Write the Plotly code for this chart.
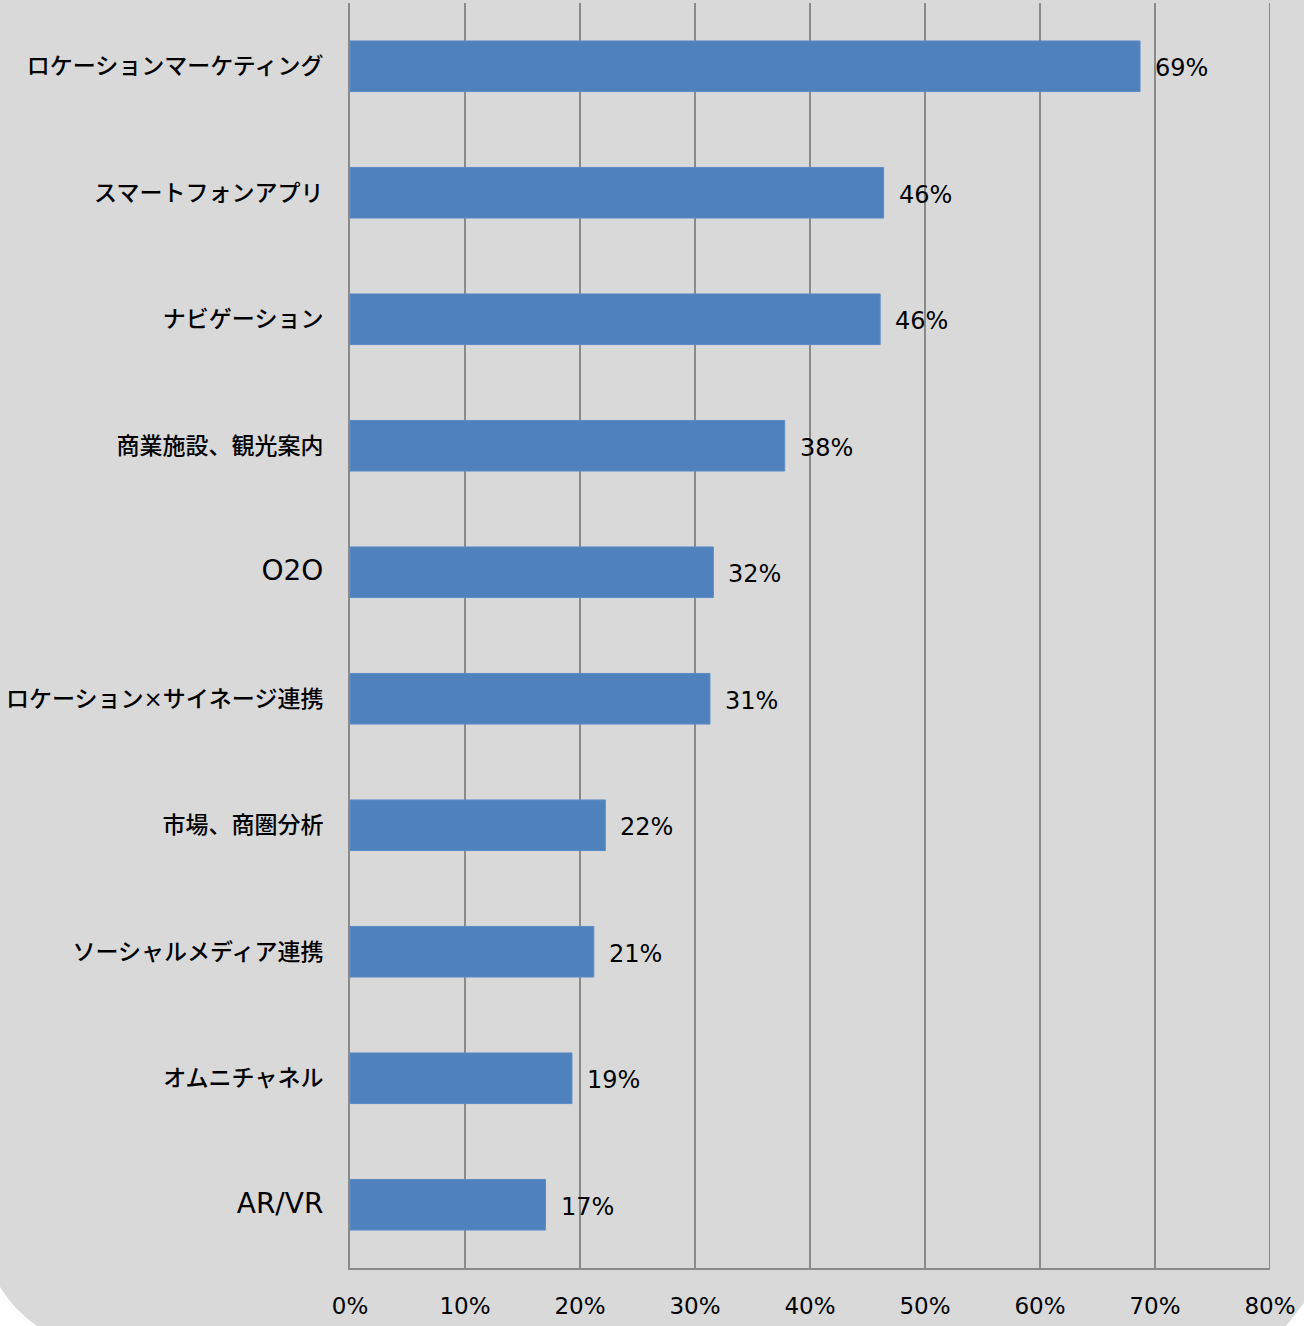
import plotly.graph_objects as go

categories = ["ロケーションマーケティング", "スマートフォンアプリ", "ナビゲーション", "商業施設、観光案内",
              "O2O", "ロケーション×サイネージ連携", "市場、商圏分析", "ソーシャルメディア連携",
              "オムニチャネル", "AR/VR"]
values = [68.7, 46.4, 46.1, 37.8, 31.6, 31.3, 22.2, 21.2, 19.3, 17.0]
labels = ["69%", "46%", "46%", "38%", "32%", "31%", "22%", "21%", "19%", "17%"]
tick_vals = [0, 10, 20, 30, 40, 50, 60, 70, 80]
tick_text = ["0%", "10%", "20%", "30%", "40%", "50%", "60%", "70%", "80%"]

W, H = 1304, 1326
L, R, T, B = 350, 34, 3, 58
pw, ph = W - L - R, H - T - B

def px(x):
    return (x - L) / pw

def py(y):
    return (H - B - y) / ph

font_family = "DejaVu Sans, Noto Sans CJK JP, sans-serif"

# Latin-only category labels are shown larger (as in the reference font)
y_ticktext = [f"<span style='font-size:28px'>{c}</span>" if c.isascii() else c for c in categories]

fig = go.Figure(go.Bar(
    x=values, y=categories, orientation="h",
    marker=dict(color="#4f81bd", line=dict(color="#5b8cc6", width=1)),
    width=0.4,
))

for v, c, t in zip(values, categories, labels):
    fig.add_annotation(x=v, y=c, text=t, showarrow=False, xanchor="left",
                       xshift=13, yshift=-2, font=dict(size=24, color="#000000", family=font_family))

shapes = [
    dict(type="line", xref="x", yref="paper", x0=tick_vals[-1], x1=tick_vals[-1], y0=0, y1=1,
         line=dict(color="#8a8a8a", width=2), layer="below"),
    dict(type="path", xref="paper", yref="paper",
         path=f"M {px(0)} {py(1287)} Q {px(14)} {py(1310)} {px(37)} {py(1326)} L {px(0)} {py(1326)} Z",
         fillcolor="white", line=dict(width=0), layer="above"),
    dict(type="path", xref="paper", yref="paper",
         path=f"M {px(1304)} {py(1303)} L {px(1286)} {py(1326)} L {px(1304)} {py(1326)} Z",
         fillcolor="white", line=dict(width=0), layer="above"),
]

fig.update_layout(
    width=W, height=H,
    margin=dict(l=L, r=R, t=T, b=B),
    paper_bgcolor="#d9d9d9", plot_bgcolor="#d9d9d9",
    showlegend=False,
    font=dict(family=font_family, size=23, color="#000000"),
    shapes=shapes,
    xaxis=dict(range=[0, 80], tickvals=tick_vals, ticktext=tick_text,
               showgrid=True, gridcolor="#8a8a8a", gridwidth=2,
               showline=True, linecolor="#8a8a8a", linewidth=2,
               zeroline=False, ticks="", ticklabelstandoff=16,
               tickfont=dict(size=23, family=font_family)),
    yaxis=dict(autorange="reversed", showgrid=False, zeroline=False,
               showline=True, linecolor="#8a8a8a", linewidth=2,
               ticks="", ticklabelstandoff=20,
               tickmode="array", tickvals=categories, ticktext=y_ticktext,
               tickfont=dict(size=23, family=font_family, weight=500)),
)

fig.write_html("out.html", config={"displayModeBar": False},
               post_script="document.body.style.margin='0';")
